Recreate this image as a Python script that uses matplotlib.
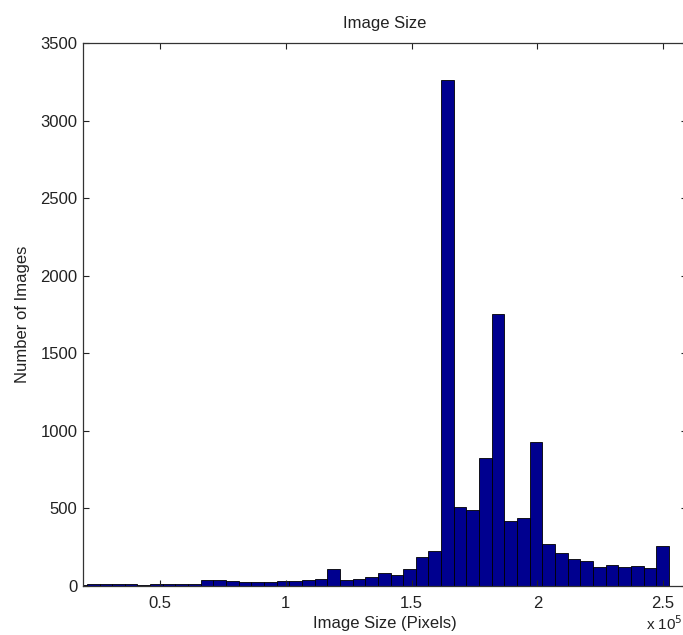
import matplotlib
matplotlib.use("Agg")
import matplotlib.pyplot as plt
import numpy as np

plt.rcParams['font.family'] = ['Liberation Sans', 'DejaVu Sans']

# Histogram data (x in units of 10^5 pixels)
bin_start = 0.159
bin_width = 0.0503
counts = [8, 10, 12, 14, 12, 5, 15, 10, 10, 12,
          40, 36, 35, 28, 28, 26, 30, 32, 38, 45,
          108, 38, 43, 55, 85, 73, 108, 185, 228,
          3260, 507, 490, 823, 1750, 419, 436, 926,
          271, 214, 176, 160, 125, 135, 125, 131, 119, 259]

xticks = [0.5, 1.0, 1.5, 2.0, 2.5]
xtick_labels = ["0.5", "1", "1.5", "2", "2.5"]
yticks = [0, 500, 1000, 1500, 2000, 2500, 3000, 3500]

W, H = 683, 635
fig = plt.figure(figsize=(W / 100, H / 100), dpi=100)
ax = fig.add_axes([83 / W, 1 - 586 / H, (687 - 83) / W, (586 - 43) / H])

lefts = bin_start + bin_width * np.arange(len(counts))
ax.bar(lefts, counts, width=bin_width, align='edge',
       color='#00008f', edgecolor='black', linewidth=0.6)

ax.set_xlim(0.194, 2.595)
ax.set_ylim(0, 3500)
ax.set_xticks(xticks)
ax.set_xticklabels(xtick_labels)
ax.set_yticks(yticks)

ax.tick_params(direction='in', length=4.5, width=0.8, labelsize=12,
               top=True, right=True, colors='#222222', labelcolor='#222222')
ax.tick_params(axis='x', pad=7)
ax.tick_params(axis='y', pad=4)
for s in ax.spines.values():
    s.set_linewidth(0.9)
    s.set_color('#333333')

ax.set_title('Image Size', fontsize=12, pad=11, color='#222222')
ax.set_xlabel('Image Size (Pixels)', fontsize=12, labelpad=4, color='#222222')
ax.set_ylabel('Number of Images', fontsize=12, labelpad=8, color='#222222')
ax.yaxis.set_label_coords(-0.088, 0.5)

fig.text(646 / W, 1 - 614 / H, r'x 10$^{5}$', fontsize=11, color='#222222',
         ha='left', va='top')

fig.savefig('out.png', dpi=100)
